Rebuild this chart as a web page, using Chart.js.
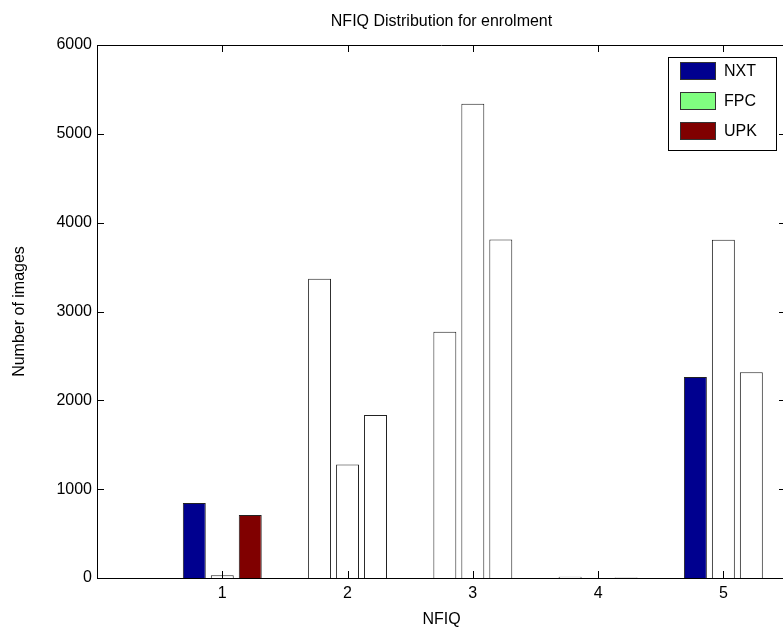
<!DOCTYPE html>
<html>
<head>
<meta charset="utf-8">
<title>NFIQ Distribution for enrolment</title>
<script src="https://cdn.jsdelivr.net/npm/chart.js@4.4.1/dist/chart.umd.min.js"></script>
<style>
  html, body { margin: 0; padding: 0; background: #fff; overflow: hidden; }
  #wrap { width: 786px; height: 629px; }
</style>
</head>
<body>
<div id="wrap"><canvas id="nfiqChart" width="786" height="629"></canvas></div>
<script>
// NFIQ classes and image counts per sensor
const categories = [1, 2, 3, 4, 5];
const nxtValues = [843, 3369, 2771, 15, 2263];
const fpcValues = [30, 1278, 5338, 0, 3808];
const upkValues = [710, 1835, 3810, 5, 2316];
const yTicks = [0, 1000, 2000, 3000, 4000, 5000, 6000];

const FONT = '"Liberation Sans", Arial, Helvetica, sans-serif';
const W = '#ffffff';
const nxtColor = '#00008f';
const fpcColor = '#80ff80';
const upkColor = '#800000';
// the original figure only filled some of the bars
const nxtFill = [nxtColor, W, W, W, nxtColor];
const fpcFill = [W, W, W, W, W];
const upkFill = [upkColor, W, W, W, W];

function toPoints(values) {
    return categories.map((c, i) => ({ x: c, y: values[i] }));
}

// inward ticks + closed box, like a matlab axes
const boxTicks = {
    id: 'boxTicks',
    afterDraw(chart) {
        const { ctx, chartArea: a, scales } = chart;
        const len = 7;
        ctx.save();
        ctx.strokeStyle = '#000';
        ctx.lineWidth = 1;
        ctx.beginPath();
        ctx.moveTo(a.left, a.top + 0.5);
        ctx.lineTo(a.right, a.top + 0.5);
        ctx.moveTo(a.right - 0.5, a.top);
        ctx.lineTo(a.right - 0.5, a.bottom);
        yTicks.forEach(v => {
            const y = Math.round(scales.y.getPixelForValue(v)) + 0.5;
            ctx.moveTo(a.left, y); ctx.lineTo(a.left + len, y);
            ctx.moveTo(a.right, y); ctx.lineTo(a.right - len, y);
        });
        categories.forEach(c => {
            const x = Math.round(scales.x.getPixelForValue(c)) + 0.5;
            ctx.moveTo(x, a.bottom); ctx.lineTo(x, a.bottom - len);
            ctx.moveTo(x, a.top); ctx.lineTo(x, a.top + len);
        });
        ctx.stroke();
        ctx.restore();
    }
};

// legend box in the top right corner of the axes
const boxLegend = {
    id: 'boxLegend',
    afterDraw(chart) {
        const { ctx, chartArea: a } = chart;
        const sets = chart.data.datasets;
        const bw = 108, rowH = 30;
        const bh = sets.length * rowH + 3;
        const bx = a.right - 10 - bw, by = a.top + 12;
        ctx.save();
        ctx.fillStyle = '#fff';
        ctx.fillRect(bx, by, bw, bh);
        ctx.strokeStyle = '#000';
        ctx.lineWidth = 1;
        ctx.strokeRect(bx + 0.5, by + 0.5, bw, bh);
        ctx.font = '16px ' + FONT;
        ctx.textBaseline = 'middle';
        sets.forEach((ds, i) => {
            const cy = by + 14 + i * rowH;
            ctx.fillStyle = ds.legendColor;
            ctx.fillRect(bx + 12, cy - 9, 36, 18);
            ctx.strokeStyle = '#333';
            ctx.strokeRect(bx + 12.5, cy - 8.5, 35, 17);
            ctx.fillStyle = '#000';
            ctx.fillText(ds.label, bx + 56, cy + 1);
        });
        ctx.restore();
    }
};

new Chart(document.getElementById('nfiqChart'), {
    type: 'bar',
    data: {
        datasets: [
            { label: 'NXT', data: toPoints(nxtValues), backgroundColor: nxtFill, legendColor: nxtColor },
            { label: 'FPC', data: toPoints(fpcValues), backgroundColor: fpcFill, legendColor: fpcColor },
            { label: 'UPK', data: toPoints(upkValues), backgroundColor: upkFill, legendColor: upkColor }
        ]
    },
    options: {
        responsive: false,
        animation: false,
        devicePixelRatio: 1,
        categoryPercentage: 0.67,
        barPercentage: 0.82,
        borderColor: '#222',
        borderWidth: 1,
        layout: { padding: 0 },
        plugins: {
            legend: { display: false },
            tooltip: { enabled: false },
            title: {
                display: true,
                text: 'NFIQ Distribution for enrolment',
                fullSize: false,
                color: '#000',
                font: { family: FONT, size: 16, weight: 'normal', lineHeight: 1.2 },
                padding: { top: 12, bottom: 13.8 }
            }
        },
        scales: {
            x: {
                type: 'linear',
                min: 0,
                max: 5.5,
                offset: false,
                grid: { display: false, drawTicks: false },
                border: { display: true, color: '#000', width: 1 },
                afterBuildTicks: s => { s.ticks = categories.map(v => ({ value: v })); },
                afterFit: s => { s.height = 51; },
                ticks: { color: '#000', padding: 6, font: { family: FONT, size: 16 }, callback: v => String(v) },
                title: {
                    display: true, text: 'NFIQ', color: '#000',
                    font: { family: FONT, size: 16 }, padding: { top: 0, bottom: 0 }
                }
            },
            y: {
                min: 0,
                max: 6000,
                grid: { display: false, drawTicks: false },
                border: { display: true, color: '#000', width: 1 },
                afterBuildTicks: s => { s.ticks = yTicks.map(v => ({ value: v })); },
                afterFit: s => { s.width = 97; },
                ticks: { color: '#000', padding: 5, font: { family: FONT, size: 16 }, callback: v => String(v) },
                title: {
                    display: true, text: 'Number of images', color: '#000',
                    font: { family: FONT, size: 16 }, padding: { top: 10, bottom: 0 }
                }
            }
        }
    },
    plugins: [boxTicks, boxLegend]
});
</script>
</body>
</html>
